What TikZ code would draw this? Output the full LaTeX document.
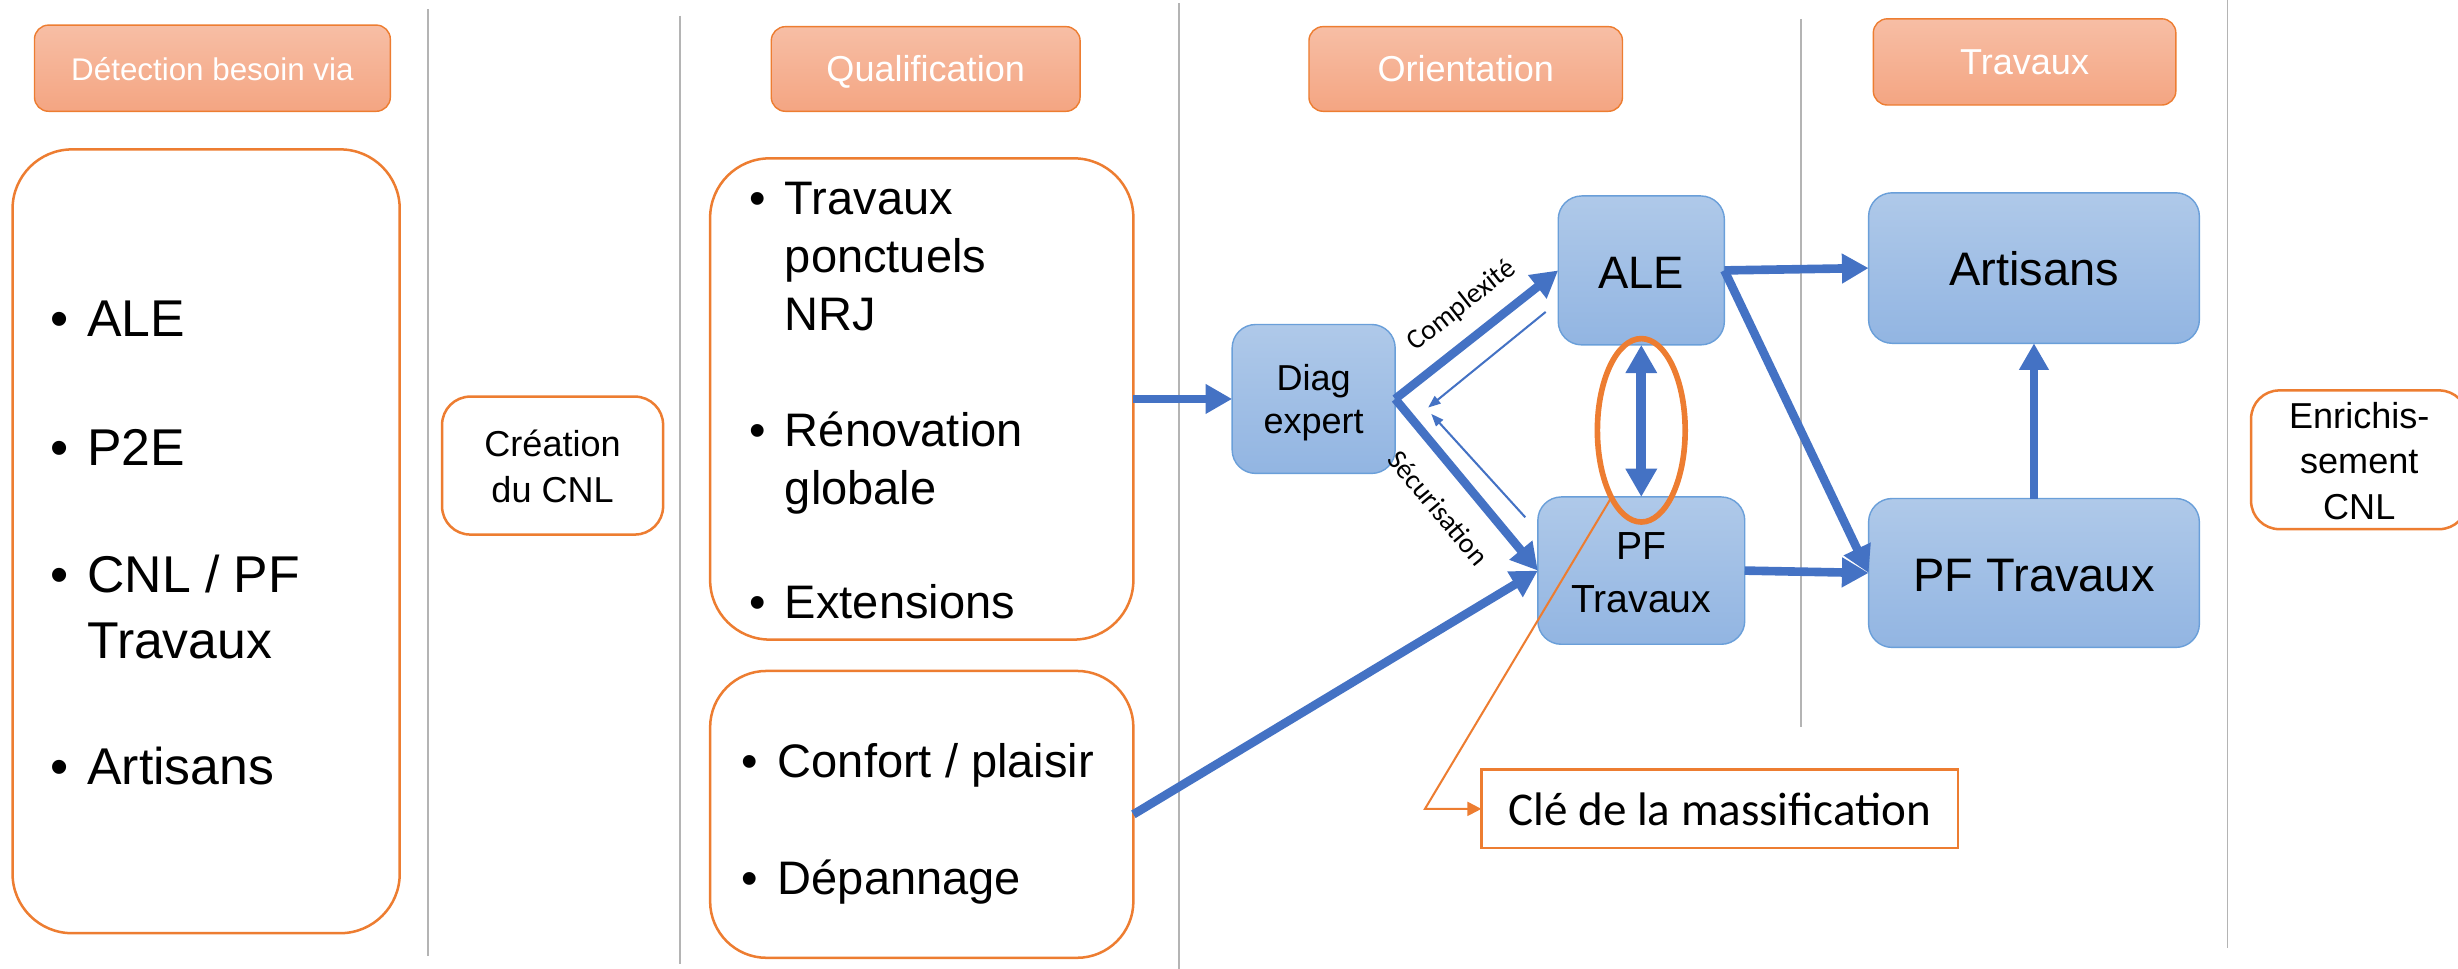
\documentclass[tikz,border=0pt]{standalone}
\usepackage{fontspec}
\setmainfont{Liberation Sans}
\newfontfamily\calibrifont{Carlito}
\usetikzlibrary{arrows.meta,calc,shapes.geometric}
\definecolor{orng}{HTML}{ED7D31}
\definecolor{arrowblue}{HTML}{4472C4}
\definecolor{boxtop}{HTML}{AFC9E9}
\definecolor{boxbot}{HTML}{92B5E2}
\definecolor{boxline}{HTML}{6A9FD9}
\definecolor{hdtop}{HTML}{F7BEA5}
\definecolor{hdbot}{HTML}{F4A582}
\definecolor{sepgray}{HTML}{B4B4B4}
\tikzset{
  hdr/.style={draw=orng, line width=0.9pt, rounded corners=9pt, top color=hdtop, bottom color=hdbot, inner sep=0pt, outer sep=0pt},
  obox/.style={draw=orng, line width=1.6pt, fill=white, inner sep=0pt, outer sep=0pt},
  bbox/.style={draw=boxline, line width=0.9pt, rounded corners=15pt, top color=boxtop, bottom color=boxbot, inner sep=0pt, outer sep=0pt},
  txt/.style={inner sep=0pt, anchor=base},
  ltxt/.style={inner sep=0pt, anchor=base west},
  sepline/.style={draw=sepgray, line width=1.1pt},
  bigarrow/.style={draw=arrowblue, line width=5.5pt, -{Triangle[length=17pt,width=18pt]}},
  dblarrow/.style={draw=arrowblue, line width=6.5pt, {Triangle[length=18pt,width=19pt]}-{Triangle[length=18pt,width=19pt]}},
  thinarrow/.style={draw=arrowblue, line width=1.3pt, -{Triangle[length=8pt,width=6pt]}},
  callout/.style={draw=orng, line width=1.3pt, -{Triangle[length=9pt,width=9pt]}},
  lbl/.style={inner sep=0pt, font=\calibrifont\fontsize{18}{21}\selectfont}
}
\begin{document}
\begin{tikzpicture}[x=1pt,y=-1pt]
\path[use as bounding box] (0,0) rectangle (1568,618);
\clip (0,0) rectangle (1568,618);

% separators
\draw[sepline] (273,6) -- (273,610);
\draw[sepline] (434,10) -- (434,615);
\draw[sepline] (752,2) -- (752,618);
\draw[sepline] (1149,12) -- (1149,464);
\draw[sepline] (1421,0) -- (1421,605);

% headers
\node[hdr, minimum width=227pt, minimum height=55pt] (h1) at (135.5,43.5) {};
\node[txt, text=white, font=\fontsize{20}{24}\selectfont] (h1t) at (135.5,51.2) {Détection besoin via};
\node[hdr, minimum width=197pt, minimum height=54pt] (h2) at (590.5,44) {};
\node[txt, text=white, font=\fontsize{23}{27}\selectfont] (h2t) at (590.5,52.2) {Qualification};
\node[hdr, minimum width=200pt, minimum height=54pt] (h3) at (935,44) {};
\node[txt, text=white, font=\fontsize{23}{27}\selectfont] (h3t) at (935,52.2) {Orientation};
\node[hdr, minimum width=193pt, minimum height=55pt] (h4) at (1291.5,39.5) {};
\node[txt, text=white, font=\fontsize{23}{27}\selectfont] (h4t) at (1291.5,47.7) {Travaux};

% left big box
\node[obox, rounded corners=38pt, minimum width=247pt, minimum height=500pt] (lb) at (131.5,345.3) {};
\begin{scope}[font=\fontsize{33}{40}\selectfont]
\node[txt] (lb1) at (38,214.8) {•};
\node[ltxt] (lb1t) at (55.5,214.8) {ALE};
\node[txt] (lb2) at (38,296.8) {•};
\node[ltxt] (lb2t) at (55.5,296.8) {P2E};
\node[txt] (lb3) at (38,377.8) {•};
\node[ltxt] (lb3t) at (55.5,377.8) {CNL / PF};
\node[ltxt] (lb3u) at (55.5,419.8) {Travaux};
\node[txt] (lb4) at (38,500.5) {•};
\node[ltxt] (lb4t) at (55.5,500.5) {Artisans};
\end{scope}

% creation du CNL
\node[obox, rounded corners=18pt, minimum width=141pt, minimum height=88pt] (cr) at (352.5,297) {};
\node[txt, font=\fontsize{23}{27}\selectfont] (cr1) at (352.5,291.2) {Création};
\node[txt, font=\fontsize{23}{27}\selectfont] (cr2) at (352.5,320.6) {du CNL};

% qualification boxes
\node[obox, rounded corners=38pt, minimum width=270pt, minimum height=307pt] (q1) at (588,254.5) {};
\begin{scope}[font=\fontsize{30}{36}\selectfont]
\node[txt] (q1b1) at (483.2,137) {•};
\node[ltxt] (q1t1) at (500.5,137) {Travaux};
\node[ltxt] (q1t2) at (500.5,174) {ponctuels};
\node[ltxt] (q1t3) at (500.5,211) {NRJ};
\node[txt] (q1b2) at (483.2,285) {•};
\node[ltxt] (q1t4) at (500.5,285) {Rénovation};
\node[ltxt] (q1t5) at (500.5,322) {globale};
\node[txt] (q1b3) at (483.2,394.3) {•};
\node[ltxt] (q1t6) at (500.5,394.3) {Extensions};
\end{scope}
\node[obox, rounded corners=36pt, minimum width=270pt, minimum height=183pt] (q2) at (588,519.5) {};
\begin{scope}[font=\fontsize{30}{36}\selectfont]
\node[txt] (q2b1) at (478.4,495.7) {•};
\node[ltxt] (q2t1) at (496,495.7) {Confort / plaisir};
\node[txt] (q2b2) at (478.4,570.3) {•};
\node[ltxt] (q2t2) at (496,570.3) {Dépannage};
\end{scope}

% blue boxes
\node[bbox, minimum width=104pt, minimum height=95pt] (diag) at (838,254.5) {};
\node[txt, font=\fontsize{23}{27}\selectfont] (diag1) at (838,248.8) {Diag};
\node[txt, font=\fontsize{23}{27}\selectfont] (diag2) at (838,276.3) {expert};
\node[bbox, minimum width=106pt, minimum height=95pt] (ale) at (1047,172.5) {};
\node[txt, font=\fontsize{29}{34}\selectfont] (alet) at (1047,184) {ALE};
\node[bbox, minimum width=132pt, minimum height=94pt] (pfm) at (1047,364) {};
\node[txt, font=\fontsize{25}{30}\selectfont] (pfm1) at (1047,357) {PF};
\node[txt, font=\fontsize{25}{30}\selectfont] (pfm2) at (1047,391) {Travaux};
\node[bbox, minimum width=211pt, minimum height=96pt] (art) at (1297.5,171) {};
\node[txt, font=\fontsize{30}{36}\selectfont] (artt) at (1297.5,182.3) {Artisans};
\node[bbox, minimum width=211pt, minimum height=95pt] (pfr) at (1297.5,365.5) {};
\node[txt, font=\fontsize{30}{36}\selectfont] (pfrt) at (1297.5,377.5) {PF Travaux};

% enrichissement
\node[obox, rounded corners=18pt, minimum width=138pt, minimum height=88.5pt] (enr) at (1505,293.3) {};
\node[txt, font=\fontsize{23}{27}\selectfont] (enr1) at (1505,273.2) {Enrichis-};
\node[txt, font=\fontsize{23}{27}\selectfont] (enr2) at (1505,302.2) {sement};
\node[txt, font=\fontsize{23}{27}\selectfont] (enr3) at (1505,331.2) {CNL};

% cle
\node[obox, minimum width=304pt, minimum height=50pt] (cle) at (1097,516) {};
\node[txt, font=\calibrifont\fontsize{30}{36}\selectfont] (clet) at (1097,526.4) {Clé de la massification};

% arrows
\draw[bigarrow] (q1.east) -- (diag.west);
\draw[bigarrow] (q2.east) -- (pfm.west);
\draw[bigarrow] (diag.east) -- (ale.west) node[lbl, sloped, pos=0.53, anchor=south, yshift=10pt] (cplx) {Complexité};
\draw[bigarrow] (diag.east) -- (pfm.west) node[lbl, sloped, pos=0.5, anchor=north, yshift=-14pt] (secu) {Sécurisation};
\draw[bigarrow] (ale.east) -- (art.west);
\draw[bigarrow] (ale.east) -- (pfr.west);
\draw[bigarrow] (pfm.east) -- (pfr.west);
\draw[bigarrow] (pfr.north) -- (art.south);

\coordinate (t1s) at (986,199);
\coordinate (t1e) at (911,260);
\coordinate (t2s) at (973,330);
\coordinate (t2e) at (913,264);
\draw[thinarrow] (t1s) -- (t1e);
\draw[thinarrow] (t2s) -- (t2e);

% ellipse and double arrow
\draw[dblarrow] (ale.south) -- (pfm.north);
\node[ellipse, draw=orng, line width=3.6pt, minimum width=56pt, minimum height=117pt, inner sep=0pt, outer sep=0pt] (ell) at (1047,274.5) {};

% callout
\coordinate (cbend) at (909,516);
\draw[callout] (ell.246) -- (cbend) -- (cle.west);
\end{tikzpicture}
\end{document}
